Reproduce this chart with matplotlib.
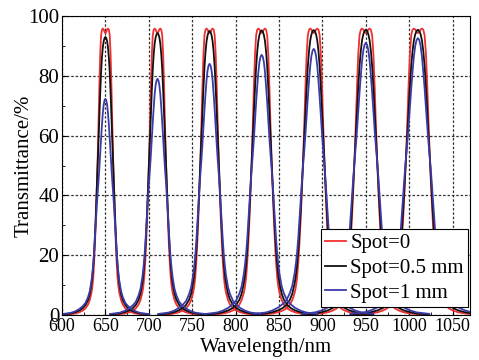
import numpy as np
import matplotlib
matplotlib.use("Agg")
import matplotlib.pyplot as plt
from matplotlib.ticker import MultipleLocator

plt.rcParams['font.family'] = ['Liberation Serif', 'DejaVu Serif']

# Daten
peak_centers = [650, 710, 770, 830, 890, 950, 1010]
width_scale = [1.00, 1.09, 1.18, 1.28, 1.37, 1.46, 1.55]

red_peaks = [95.8, 95.8, 95.8, 95.8, 95.8, 95.8, 95.8]
black_peaks = [93.0, 94.3, 95.0, 95.2, 95.3, 95.4, 95.4]
blue_peaks = [72.3, 79.0, 84.0, 87.0, 89.0, 91.0, 92.6]

# Profil des ersten Peaks (Abstand zur Mitte in nm, Transmission in %)
profile_offsets = [0, 1, 2, 3, 4, 5, 6, 7, 8, 9, 10, 11, 12, 13, 14, 15, 16,
                   18, 20, 23, 26, 30, 35, 40, 50]
red_profile = [94.3, 94.7, 95.5, 95.8, 95.4, 93.5, 87, 76, 63, 51, 41, 32, 24,
               17.5, 12.5, 9.5, 7.5, 5, 3.5, 2.2, 1.5, 0.9, 0.5, 0.3, 0.1]
black_profile = [93, 92.6, 91.5, 89.5, 86, 81, 74, 66, 58, 50, 42, 34, 27, 21,
                 16.5, 13, 10.5, 7, 5, 3.3, 2.3, 1.5, 0.9, 0.5, 0.2]
blue_profile = [72.3, 71.8, 70.3, 67.5, 63.5, 59, 54, 49, 44.5, 40.5, 36, 31,
                26, 21, 17, 14, 11.5, 8, 6, 4, 3, 2, 1.2, 0.7, 0.3]

labels = ['Spot=0', 'Spot=0.5 mm', 'Spot=1 mm']
colors = ['#f03030', '#111111', '#3b3ba8']


def peak_curve(center, w, profile, height):
    offs = np.array(profile_offsets, dtype=float)
    vals = np.array(profile, dtype=float)
    x = np.concatenate([center - offs[::-1] * w, center + offs[1:] * w])
    y = np.concatenate([vals[::-1], vals[1:]]) * height / vals.max()
    return x, y


fig = plt.figure(figsize=(4.79, 3.6), dpi=100)
ax = fig.add_axes([62 / 479, 45 / 360, 408 / 479, 299 / 360])

series = [(red_profile, red_peaks), (black_profile, black_peaks), (blue_profile, blue_peaks)]
for (profile, heights), label, color in zip(series, labels, colors):
    for i in range(len(peak_centers)):
        x, y = peak_curve(peak_centers[i], width_scale[i], profile, heights[i])
        ax.plot(x, y, color=color, lw=1.3, label=label if i == 0 else None)

ax.set_xlim(600, 1070)
ax.set_ylim(0, 100)
ax.xaxis.set_major_locator(MultipleLocator(50))
ax.yaxis.set_major_locator(MultipleLocator(20))
ax.yaxis.set_minor_locator(MultipleLocator(10))
ax.xaxis.set_minor_locator(MultipleLocator(25))
ax.tick_params(direction='in', which='both', top=False, right=False)
ax.tick_params(axis='x', labelsize=13, pad=2)
ax.tick_params(axis='y', labelsize=15, pad=2)
ax.grid(True, which='major', color='#333333', linestyle=(0, (2, 1.5)), lw=0.9)

ax.set_xlabel('Wavelength/nm', fontsize=15, labelpad=2)
ax.set_ylabel('Transmittance/%', fontsize=15, labelpad=-4)

leg = ax.legend(loc='lower right', bbox_to_anchor=(1.0, 0.02), fontsize=15,
                handlelength=1.0, handletextpad=0.2, borderpad=0.2,
                labelspacing=0.25, borderaxespad=0.1, fancybox=False,
                framealpha=1, edgecolor='black')
leg.get_frame().set_linewidth(0.8)

fig.savefig('out.png', dpi=100)
